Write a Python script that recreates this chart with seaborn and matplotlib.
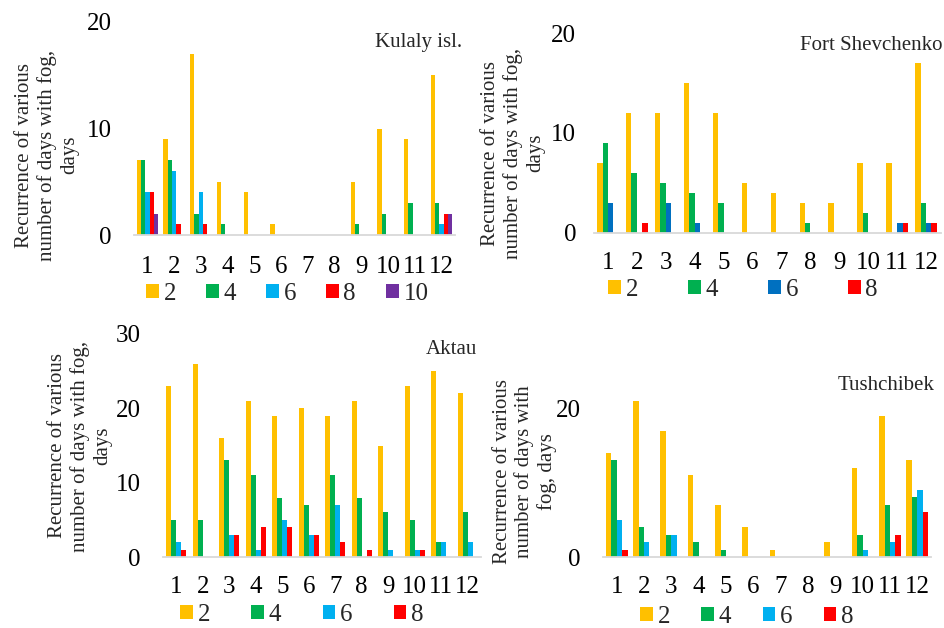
import numpy as np
import pandas as pd
import matplotlib
matplotlib.use("Agg")
import matplotlib.pyplot as plt
import seaborn as sns
from matplotlib.patches import Patch

# ---------------- data ----------------
months = [str(m) for m in range(1, 13)]

kulaly_labels = ["2", "4", "6", "8", "10"]
kulaly_2 = [7, 9, 17, 5, 4, 1, 0, 0, 5, 10, 9, 15]
kulaly_4 = [7, 7, 2, 1, 0, 0, 0, 0, 1, 2, 3, 3]
kulaly_6 = [4, 6, 4, 0, 0, 0, 0, 0, 0, 0, 0, 1]
kulaly_8 = [4, 1, 1, 0, 0, 0, 0, 0, 0, 0, 0, 2]
kulaly_10 = [2, 0, 0, 0, 0, 0, 0, 0, 0, 0, 0, 2]

fort_labels = ["2", "4", "6", "8"]
fort_2 = [7, 12, 12, 15, 12, 5, 4, 3, 3, 7, 7, 17]
fort_4 = [9, 6, 5, 4, 3, 0, 0, 1, 0, 2, 0, 3]
fort_6 = [3, 0, 3, 1, 0, 0, 0, 0, 0, 0, 1, 1]
fort_8 = [0, 1, 0, 0, 0, 0, 0, 0, 0, 0, 1, 1]

aktau_labels = ["2", "4", "6", "8"]
aktau_2 = [23, 26, 16, 21, 19, 20, 19, 21, 15, 23, 25, 22]
aktau_4 = [5, 5, 13, 11, 8, 7, 11, 8, 6, 5, 2, 6]
aktau_6 = [2, 0, 3, 1, 5, 3, 7, 0, 1, 1, 2, 2]
aktau_8 = [1, 0, 3, 4, 4, 3, 2, 1, 0, 1, 0, 0]

tush_labels = ["2", "4", "6", "8"]
tush_2 = [14, 21, 17, 11, 7, 4, 1, 0, 2, 12, 19, 13]
tush_4 = [13, 4, 3, 2, 1, 0, 0, 0, 0, 3, 7, 8]
tush_6 = [5, 2, 3, 0, 0, 0, 0, 0, 0, 1, 2, 9]
tush_8 = [1, 0, 0, 0, 0, 0, 0, 0, 0, 0, 3, 6]

ylabel_a = "Recurrence of various\nnumber of days with fog,\ndays"
ylabel_b = "Recurrence of various\nnumber of days with\nfog, days"

# ---------------- style ----------------
sns.set_theme(style="white")
plt.rcParams["font.family"] = ["Liberation Serif", "DejaVu Serif"]

W, H = 944, 628
fig = plt.figure(figsize=(W / 100, H / 100), dpi=100)

ORANGE = "#FFC000"
GREEN = "#00B050"
LBLUE = "#00B0F0"
DBLUE = "#0070C0"
RED = "#FF0000"
PURPLE = "#7030A0"
FS = 18


def px_rect(left, right, top, bottom):
    return [left / W, 1 - bottom / H, (right - left) / W, (bottom - top) / H]


def panel(rect, labels, series, colors, width, ylim, yticks, title, title_xy,
          ylabel, ylabel_xy, leg_xy, colspace, xpad, ypad):
    ax = fig.add_axes(px_rect(*rect))
    df = pd.DataFrame({
        "month": months * len(labels),
        "value": np.concatenate([np.asarray(s, float) for s in series]),
        "series": np.repeat(labels, len(months)),
    })
    sns.barplot(data=df, x="month", y="value", hue="series", hue_order=labels,
                order=months, palette=colors, width=width, saturation=1,
                errorbar=None, linewidth=0, legend=False, ax=ax)
    ax.set_xlim(-0.5, 11.5)
    ax.set_ylim(*ylim)
    ax.set_yticks(yticks)
    ax.set_xlabel("")
    ax.set_ylabel("")
    for s in ["top", "right", "left"]:
        ax.spines[s].set_visible(False)
    ax.spines["bottom"].set_color("#D9D9D9")
    ax.spines["bottom"].set_linewidth(1.3)
    ax.tick_params(axis="both", length=0, labelsize=FS, colors="black")
    ax.tick_params(axis="x", pad=xpad)
    ax.tick_params(axis="y", pad=ypad)
    ax.patch.set_alpha(0)

    fig.text(title_xy[0] / W, 1 - title_xy[1] / H, title, ha="right",
             va="center", fontsize=15)
    fig.text(ylabel_xy[0] / W, 1 - ylabel_xy[1] / H, ylabel, rotation=90,
             ha="center", va="center", multialignment="center", fontsize=15,
             linespacing=1.2)

    handles = [Patch(facecolor=c, edgecolor="none", label=l)
               for c, l in zip(colors, labels)]
    ax.legend(handles=handles, loc="center left",
              bbox_to_anchor=(leg_xy[0] / W, 1 - leg_xy[1] / H),
              bbox_transform=fig.transFigure, ncol=len(labels), frameon=False,
              handlelength=0.5, handleheight=0.5, handletextpad=0.2,
              columnspacing=colspace, borderpad=0, borderaxespad=0,
              fontsize=FS)
    return ax


panel((134, 455, 22, 235), kulaly_labels,
      [kulaly_2, kulaly_4, kulaly_6, kulaly_8, kulaly_10],
      [ORANGE, GREEN, LBLUE, RED, PURPLE], 0.8, (0, 20), [0, 10, 20],
      "Kulaly isl.", (462, 43), ylabel_a, (47, 155), (146, 294), 1.2, 15, 16)

panel((593.5, 940.5, 33, 232.7), fort_labels,
      [fort_2, fort_4, fort_6, fort_8],
      [ORANGE, GREEN, DBLUE, RED], 0.75, (0, 20), [0, 10, 20],
      "Fort Shevchenko", (943, 45), ylabel_a, (513, 153), (608, 290), 2.0, 14, 12.5)

panel((163, 481, 334, 557), aktau_labels,
      [aktau_2, aktau_4, aktau_6, aktau_8],
      [ORANGE, GREEN, LBLUE, RED], 0.76, (0, 30), [0, 10, 20, 30],
      "Aktau", (477, 350), ylabel_a, (80, 446), (180, 615), 1.65, 14, 16)

panel((603, 931, 371, 557), tush_labels,
      [tush_2, tush_4, tush_6, tush_8],
      [ORANGE, GREEN, LBLUE, RED], 0.8, (0, 25), [0, 20],
      "Tushchibek", (935, 385), ylabel_b, (525, 472), (640, 617), 1.25, 14, 16)

fig.savefig("out.png", dpi=100, facecolor="white")
